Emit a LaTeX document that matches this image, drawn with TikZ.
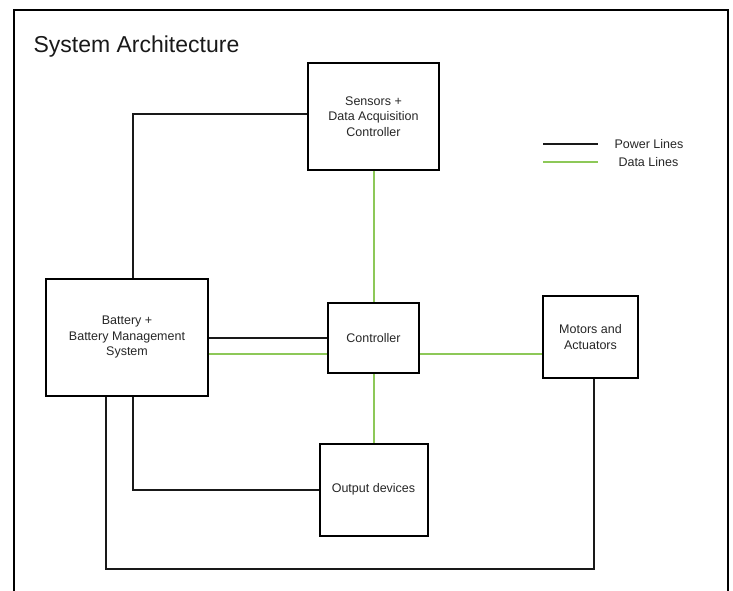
\documentclass[tikz,border=0pt]{standalone}
\usepackage{fontspec}
\setmainfont{Liberation Sans}
\definecolor{datagreen}{RGB}{141,200,88}
\tikzset{
  block/.style={draw,line width=2pt,align=center,inner sep=0pt,text=black!85,
    font=\fontsize{12.5}{15.5}\selectfont},
  power/.style={line width=2pt,black!90},
  data/.style={line width=2pt,datagreen}
}
\begin{document}
\begin{tikzpicture}[x=1pt,y=-1pt]
  \useasboundingbox (0,0) rectangle (733,591);
  % frame, open at the bottom
  \draw[line width=2pt] (14,591) -- (14,10) -- (728,10) -- (728,591);
  \node[anchor=base west,font=\fontsize{23}{26}\selectfont,text=black!90] (title) at (30,53) {System Architecture};

  % blocks
  \node[block,minimum width=131,minimum height=107] (sensors) at (373.5,116.5) {Sensors +\\Data Acquisition\\Controller};
  \node[block,minimum width=162,minimum height=117] (battery) at (127,337) {Battery +\\Battery Management\\System};
  \node[block,minimum width=91,minimum height=70] (ctrl) at (373.5,338) {Controller};
  \node[block,minimum width=95,minimum height=82] (motors) at (590.5,337) {Motors and\\Actuators};
  \node[block,minimum width=108,minimum height=92] (output) at (373.5,489.5) {Output devices};

  % legend
  \coordinate (pwrA) at (543,144);
  \coordinate (pwrB) at (598,144);
  \coordinate (datA) at (543,162);
  \coordinate (datB) at (598,162);
  \draw[power] (pwrA) -- (pwrB);
  \draw[data] (datA) -- (datB);
  \node[anchor=west,font=\fontsize{12.5}{15}\selectfont,text=black!85] (pwrlbl) at (611,144) {Power Lines};
  \node[anchor=west,font=\fontsize{12.5}{15}\selectfont,text=black!85] (datlbl) at (615,162) {Data Lines};

  % power lines
  \draw[power] ([yshift=2.5pt]sensors.west) -| ([xshift=6pt]battery.north);
  \draw[power] (ctrl.west) -- (ctrl.west -| battery.east);
  \draw[power] (output.west) -| ([xshift=6pt]battery.south);
  \draw[power] ([xshift=-21pt]battery.south) -- ++(0,172) -| ([xshift=3.5pt]motors.south);

  % data lines
  \draw[data] ([yshift=-16pt]ctrl.west) -- ([yshift=-16pt]ctrl.west -| battery.east);
  \draw[data] ([yshift=-16pt]ctrl.east) -- ([yshift=-16pt]ctrl.east -| motors.west);
  \draw[data] (sensors.south) -- (ctrl.north);
  \draw[data] (ctrl.south) -- (output.north);
\end{tikzpicture}
\end{document}
